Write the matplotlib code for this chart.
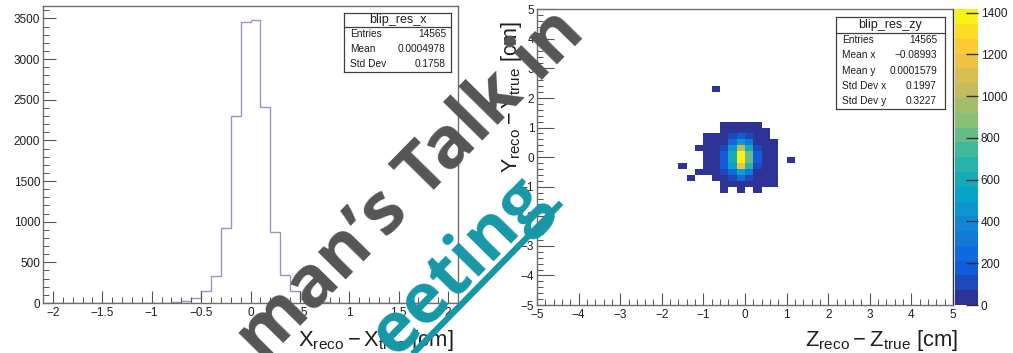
import numpy as np
import matplotlib
matplotlib.use("Agg")
import matplotlib.pyplot as plt
from matplotlib.colors import LinearSegmentedColormap, ListedColormap, BoundaryNorm
from matplotlib.ticker import MultipleLocator
from matplotlib.lines import Line2D

W, H = 1013, 353
plt.rcParams['font.family'] = ['Liberation Sans', 'DejaVu Sans']
plt.rcParams['mathtext.fontset'] = 'custom'
plt.rcParams['mathtext.rm'] = 'Liberation Sans'
plt.rcParams['mathtext.it'] = 'Liberation Sans'

# --- blip_res_x : 0.1 cm bins, filled bins only (lower edges)
resx_lo = [-0.8, -0.7, -0.6, -0.5, -0.4, -0.3, -0.2, -0.1,
           0.0, 0.1, 0.2, 0.3, 0.4, 0.5, 0.6, 0.7]
resx_counts = [12, 22, 58, 150, 336, 925, 2305, 3459,
               3483, 2407, 876, 344, 145, 50, 20, 10]
resx_stats = [("Entries", "14565"), ("Mean", "0.0004978"), ("Std Dev", "0.1758")]

# --- blip_res_zy : 0.2 x 0.2 cm bins, core block (lower edges)
zy_cols = [-1.6, -1.4, -1.2, -1.0, -0.8, -0.6, -0.4, -0.2, 0.0, 0.2, 0.4, 0.6, 0.8, 1.0]
zy_rows = [1.0, 0.8, 0.6, 0.4, 0.2, 0.0, -0.2, -0.4, -0.6, -0.8, -1.0, -1.2]
zy_counts = [
    [0, 0, 0, 0,  0,   2,   3,    5,   3,   1,  0, 0, 0, 0],
    [0, 0, 0, 0,  0,   8,  20,   40,  25,   6,  2, 0, 0, 0],
    [0, 0, 0, 2,  6,  30, 100,  200, 130,  25,  5, 0, 0, 0],
    [0, 0, 0, 3, 12,  70, 240,  450, 320,  60, 12, 3, 0, 0],
    [0, 0, 1, 6, 25, 140, 480, 1000, 620, 120, 25, 5, 0, 0],
    [0, 0, 0, 8, 35, 190, 600, 1390, 780, 165, 35, 8, 0, 0],
    [0, 0, 0, 8, 38, 200, 620, 1400, 800, 175, 38, 8, 0, 1],
    [1, 0, 0, 6, 30, 160, 520, 1150, 680, 135, 30, 6, 0, 0],
    [0, 0, 1, 4, 18,  80, 270,  550, 350,  70, 15, 3, 0, 0],
    [0, 1, 0, 0,  6,  25,  90,  220, 120,  20,  5, 2, 0, 0],
    [0, 0, 0, 0,  0,   5,  15,   40,  20,   4,  1, 1, 0, 0],
    [0, 0, 0, 0,  0,   1,   0,    3,   0,   1,  0, 0, 0, 0],
]
zy_outlier = (-0.8, 2.2, 1)
zy_stats = [("Entries", "14565"), ("Mean x", "\u22120.08993"), ("Mean y", "0.0001579"),
            ("Std Dev x", "0.1997"), ("Std Dev y", "0.3227")]
z_ticks = [0, 200, 400, 600, 800, 1000, 1200, 1400]
z_max = 1416

# ROOT kBird palette, 20 contour bands
bird_stops = [0.0, 0.125, 0.25, 0.375, 0.5, 0.625, 0.75, 0.875, 1.0]
bird_r = [0.2082, 0.0592, 0.0780, 0.0232, 0.1802, 0.5301, 0.8186, 0.9956, 0.9764]
bird_g = [0.1664, 0.3599, 0.5041, 0.6419, 0.7178, 0.7492, 0.7328, 0.7862, 0.9832]
bird_b = [0.5293, 0.8684, 0.8385, 0.7914, 0.6425, 0.4662, 0.3499, 0.1968, 0.0539]
bird = LinearSegmentedColormap.from_list(
    "bird", list(zip(bird_stops, zip(bird_r, bird_g, bird_b))))
n_cont = 20
palette = ListedColormap(bird((np.arange(n_cont) + 0.5) / n_cont))
levels = np.linspace(0, z_max, n_cont + 1)
norm = BoundaryNorm(levels, n_cont)

TXT = '#1e1e1e'
FRAME = '#6e6e6e'


def px_rect(x0, y0, x1, y1):
    return [x0 / W, 1 - y1 / H, (x1 - x0) / W, (y1 - y0) / H]


def style_axes(ax):
    for s in ax.spines.values():
        s.set_color(FRAME)
        s.set_linewidth(1.0)
    ax.tick_params(which='both', direction='in', top=False, right=False,
                   colors=TXT, labelsize=8.5, labelcolor=TXT)
    ax.tick_params(which='major', length=9, width=0.8, color='#555555')
    ax.tick_params(which='minor', length=4.5, width=0.7, color='#555555')


def stat_box(x0, y0, x1, y1, div, title, rows, val_pad):
    bx = fig.add_axes(px_rect(x0, y0, x1, y1))
    bx.set_xlim(x0, x1)
    bx.set_ylim(y1, y0)
    bx.set_xticks([])
    bx.set_yticks([])
    bx.patch.set_facecolor('white')
    for s in bx.spines.values():
        s.set_color('#404040')
        s.set_linewidth(0.9)
    bx.plot([x0, x1], [div, div], color='#404040', lw=0.9)
    bx.text((x0 + x1) / 2, (y0 + div) / 2 + 0.5, title, ha='center', va='center',
            fontsize=9, color=TXT)
    step = (y1 - div) / len(rows)
    for i, (k, v) in enumerate(rows):
        yc = div + (i + 0.5) * step
        bx.text(x0 + 6, yc, k, ha='left', va='center', fontsize=7.3, color=TXT)
        bx.text(x1 - val_pad, yc, v, ha='right', va='center', fontsize=7.3, color=TXT)
    return bx


fig = plt.figure(figsize=(W / 100, H / 100), dpi=100)

# ---------------- left: 1D residual histogram
ax1 = fig.add_axes(px_rect(43, 5.7, 458, 303))
edges = np.round(np.linspace(-2.1, 2.1, 43), 2)
counts = np.zeros(42)
for lo, c in zip(resx_lo, resx_counts):
    counts[int(round((lo + 2.1) / 0.1))] = c
ax1.stairs(counts, edges, color='#9595c6', lw=1.0)
ax1.set_xlim(-2.1, 2.1)
ax1.set_ylim(0, 1.05 * max(resx_counts))
ax1.xaxis.set_major_locator(MultipleLocator(0.5))
ax1.xaxis.set_minor_locator(MultipleLocator(0.1))
ax1.yaxis.set_major_locator(MultipleLocator(500))
ax1.yaxis.set_minor_locator(MultipleLocator(100))
ax1.set_xticks([-2, -1.5, -1, -0.5, 0, 0.5, 1, 1.5, 2])
ax1.set_xticklabels(['\u22122', '\u22121.5', '\u22121', '\u22120.5', '0', '0.5', '1', '1.5', '2'])
style_axes(ax1)
ax1.tick_params(axis='y', pad=2)
ax1.tick_params(axis='x', pad=3)
fig.text(454 / W, 1 - 346 / H, r'$\mathrm{X_{reco} - X_{true}}$ [cm]',
         ha='right', va='baseline', fontsize=15.8, color=TXT)
stat_box(344, 13, 451, 72, 26.7, 'blip_res_x', resx_stats, 5)

# ---------------- right: 2D residual map
ax2 = fig.add_axes(px_rect(537, 9.3, 953, 305))
grid = np.round(np.linspace(-5, 5, 51), 2)
h2 = np.zeros((50, 50))
for r, row in zip(zy_rows, zy_counts):
    for c, v in zip(zy_cols, row):
        h2[int(round((r + 5) / 0.2)), int(round((c + 5) / 0.2))] = v
h2[int(round((zy_outlier[1] + 5) / 0.2)), int(round((zy_outlier[0] + 5) / 0.2))] = zy_outlier[2]
mesh = ax2.pcolormesh(grid, grid, np.ma.masked_equal(h2, 0), cmap=palette, norm=norm)
ax2.set_xlim(-5, 5)
ax2.set_ylim(-5, 5)
ax2.xaxis.set_major_locator(MultipleLocator(1))
ax2.xaxis.set_minor_locator(MultipleLocator(0.2))
ax2.yaxis.set_major_locator(MultipleLocator(1))
ax2.yaxis.set_minor_locator(MultipleLocator(0.2))
style_axes(ax2)
ax2.spines['right'].set_color('#303030')
ax2.tick_params(axis='y', pad=2)
ax2.tick_params(axis='x', pad=3)
ax2.tick_params(axis='y', which='major', length=12)
fig.text(958 / W, 1 - 346 / H, r'$\mathrm{Z_{reco} - Z_{true}}$ [cm]',
         ha='right', va='baseline', fontsize=15.8, color=TXT)
fig.text(512 / W, 1 - 97 / H, r'$\mathrm{Y_{reco} - Y_{true}}$ [cm]',
         ha='center', va='center', rotation=90, fontsize=15.5, color=TXT)

cax = fig.add_axes(px_rect(955, 9.3, 978, 305))
cb = fig.colorbar(mesh, cax=cax, ticks=z_ticks)
cb.outline.set_visible(False)
cax.tick_params(direction='in', length=9, width=1.0, colors='#303030',
                labelsize=8.5, labelcolor=TXT, pad=2)
cax.minorticks_off()

stat_box(836, 17, 945, 109, 32.5, 'blip_res_zy', zy_stats, 8)

# ---------------- slide title text running across the plots
WM_FONT = dict(family=['Open Sans', 'DejaVu Sans'], fontweight='bold')
ang = 45.5
u = np.array([np.cos(np.radians(ang)), np.sin(np.radians(ang))])
nrm = np.array([np.sin(np.radians(ang)), -np.cos(np.radians(ang))])


def slide_text(s, x, y, size, color, underline=False):
    fig.text(x / W, 1 - y / H, s, rotation=ang, rotation_mode='anchor',
             ha='left', va='baseline', fontsize=size, color=color, zorder=20, **WM_FONT)
    if underline:
        probe = fig.text(0, 0, s, fontsize=size, **WM_FONT)
        wpx = probe.get_window_extent(fig.canvas.get_renderer()).width
        probe.remove()
        off = 9
        p0 = np.array([x, H - y]) - 80 * u + off * nrm
        p1 = np.array([x, H - y]) + (wpx + 6) * u + off * nrm
        fig.add_artist(Line2D([p0[0] / W, p1[0] / W], [p0[1] / H, p1[1] / H],
                              transform=fig.transFigure, color=color, lw=4.5,
                              solid_capstyle='butt', zorder=20))


slide_text('man\u2019s Talk in', 263, 364, 51.5, '#555555')
slide_text('eeting', 396, 358, 50.5, '#1797a6', underline=True)

fig.savefig('out.png', dpi=100)
